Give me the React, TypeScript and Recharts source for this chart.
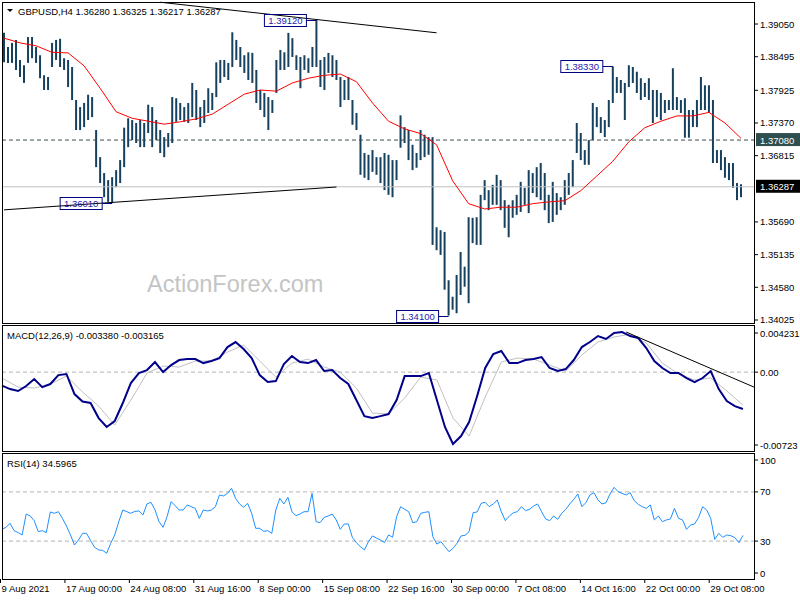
import React from "react";
import { ComposedChart, Bar, Line, XAxis, YAxis, ReferenceLine, ReferenceDot } from "recharts";

// GBPUSD H4, каждая точка = 2 бара H4
const timeLabels = [
  "9 Aug 2021", "17 Aug 00:00", "24 Aug 08:00", "31 Aug 16:00", "8 Sep 00:00", "15 Sep 08:00",
  "22 Sep 16:00", "30 Sep 00:00", "7 Oct 08:00", "14 Oct 16:00", "22 Oct 00:00", "29 Oct 08:00",
];
const labelStep = 16;

const highs = [
  1.3890, 1.3866, 1.3873, 1.3878, 1.3844, 1.3835, 1.3883, 1.3883, 1.3866, 1.3852,
  1.3818, 1.3815, 1.3873, 1.3878, 1.3880, 1.3847, 1.3844, 1.3832, 1.3776, 1.3764,
  1.3771, 1.3785, 1.3781, 1.3725, 1.3679, 1.3652, 1.3640, 1.3645, 1.3657, 1.3674,
  1.3729, 1.3745, 1.3742, 1.3737, 1.3742, 1.3737, 1.3768, 1.3764, 1.3742, 1.3725,
  1.3713, 1.3720, 1.3781, 1.3779, 1.3771, 1.3764, 1.3771, 1.3805, 1.3793, 1.3764,
  1.3776, 1.3796, 1.3788, 1.3840, 1.3844, 1.3844, 1.3839, 1.3891, 1.3878, 1.3866,
  1.3852, 1.3857, 1.3856, 1.3827, 1.3793, 1.3788, 1.3781, 1.3776, 1.3844, 1.3861,
  1.3857, 1.3890, 1.3881, 1.3852, 1.3849, 1.3852, 1.3847, 1.3866, 1.3912, 1.3844,
  1.3849, 1.3856, 1.3852, 1.3844, 1.3815, 1.3810, 1.3815, 1.3776, 1.3754, 1.3717,
  1.3686, 1.3683, 1.3691, 1.3679, 1.3679, 1.3686, 1.3683, 1.3674, 1.3674, 1.3750,
  1.3730, 1.3725, 1.3700, 1.3686, 1.3725, 1.3717, 1.3713, 1.3713, 1.3560, 1.3555,
  1.3552, 1.3470, 1.3442, 1.3479, 1.3518, 1.3493, 1.3577, 1.3576, 1.3577, 1.3615,
  1.3640, 1.3623, 1.3632, 1.3649, 1.3640, 1.3606, 1.3598, 1.3606, 1.3615, 1.3637,
  1.3627, 1.3657, 1.3652, 1.3662, 1.3669, 1.3652, 1.3615, 1.3637, 1.3618, 1.3611,
  1.3640, 1.3652, 1.3674, 1.3737, 1.3720, 1.3691, 1.3708, 1.3771, 1.3764, 1.3747,
  1.3742, 1.3776, 1.3833, 1.3815, 1.3810, 1.3805, 1.3835, 1.3832, 1.3824, 1.3813,
  1.3805, 1.3813, 1.3793, 1.3793, 1.3788, 1.3776, 1.3776, 1.3830, 1.3781, 1.3776,
  1.3779, 1.3759, 1.3759, 1.3776, 1.3815, 1.3801, 1.3801, 1.3776, 1.3691, 1.3691,
  1.3679, 1.3669, 1.3669, 1.3635, 1.3633,
];

const lows = [
  1.3840, 1.3839, 1.3839, 1.3827, 1.3815, 1.3805, 1.3839, 1.3847, 1.3839, 1.3813,
  1.3793, 1.3793, 1.3832, 1.3844, 1.3832, 1.3827, 1.3798, 1.3776, 1.3725, 1.3725,
  1.3730, 1.3742, 1.3747, 1.3662, 1.3635, 1.3611, 1.3603, 1.3601, 1.3628, 1.3635,
  1.3662, 1.3696, 1.3708, 1.3703, 1.3696, 1.3696, 1.3720, 1.3696, 1.3708, 1.3686,
  1.3679, 1.3696, 1.3703, 1.3739, 1.3742, 1.3739, 1.3737, 1.3747, 1.3742, 1.3730,
  1.3737, 1.3754, 1.3759, 1.3781, 1.3805, 1.3815, 1.3810, 1.3832, 1.3844, 1.3832,
  1.3822, 1.3810, 1.3805, 1.3771, 1.3759, 1.3747, 1.3725, 1.3754, 1.3788, 1.3827,
  1.3827, 1.3832, 1.3849, 1.3827, 1.3796, 1.3827, 1.3822, 1.3832, 1.3832, 1.3798,
  1.3793, 1.3822, 1.3815, 1.3810, 1.3764, 1.3776, 1.3776, 1.3734, 1.3725, 1.3649,
  1.3644, 1.3640, 1.3654, 1.3649, 1.3635, 1.3623, 1.3615, 1.3611, 1.3640, 1.3695,
  1.3703, 1.3674, 1.3657, 1.3661, 1.3674, 1.3679, 1.3683, 1.3530, 1.3521, 1.3513,
  1.3454, 1.3410, 1.3420, 1.3414, 1.3445, 1.3459, 1.3431, 1.3533, 1.3530, 1.3530,
  1.3606, 1.3589, 1.3598, 1.3598, 1.3589, 1.3559, 1.3543, 1.3576, 1.3581, 1.3586,
  1.3598, 1.3584, 1.3618, 1.3611, 1.3606, 1.3589, 1.3567, 1.3569, 1.3581, 1.3589,
  1.3598, 1.3615, 1.3628, 1.3686, 1.3674, 1.3666, 1.3666, 1.3708, 1.3730, 1.3720,
  1.3713, 1.3730, 1.3771, 1.3788, 1.3788, 1.3742, 1.3798, 1.3805, 1.3788, 1.3776,
  1.3781, 1.3776, 1.3737, 1.3747, 1.3742, 1.3754, 1.3759, 1.3759, 1.3759, 1.3754,
  1.3712, 1.3712, 1.3730, 1.3730, 1.3759, 1.3759, 1.3754, 1.3669, 1.3669, 1.3657,
  1.3644, 1.3640, 1.3627, 1.3606, 1.3611,
];

// красная скользящая, снята через каждые 4 точки
const maValues = [
  1.3881, 1.3873, 1.3868, 1.3857, 1.3856, 1.3834, 1.3796, 1.3756, 1.3745, 1.3740,
  1.3735, 1.3739, 1.3744, 1.3752, 1.3769, 1.3786, 1.3793, 1.3791, 1.3805, 1.3813,
  1.3818, 1.3820, 1.3807, 1.3771, 1.3740, 1.3727, 1.3719, 1.3700, 1.3639, 1.3600,
  1.3591, 1.3594, 1.3594, 1.3600, 1.3603, 1.3605, 1.3622, 1.3647, 1.3672, 1.3705,
  1.3729, 1.3740, 1.3749, 1.3749, 1.3755, 1.3737, 1.3711,
];

// MACD через каждые 2 точки
const macdValues = [
  -0.00123, -0.00155, -0.00173, -0.00127, -0.00063, -0.00137, -0.00109, -0.00027, -0.00017, -0.00201,
  -0.0027, -0.00283, -0.00421, -0.00503, -0.00448, -0.00283, -0.001, -0.00008, 0.00019, 0.00093,
  0.00001, 0.00065, 0.00111, 0.0012, 0.0012, 0.00083, 0.00102, 0.00129, 0.0023, 0.00276,
  0.00212, 0.00129, -0.00027, -0.00091, -0.00082, 0.00074, 0.00148, 0.00093, 0.00083, 0.00111,
  0.0001, 0.00019, -0.00054, -0.00109, -0.00256, -0.00403, -0.00421, -0.00403, -0.00384, -0.00256,
  -0.00036, -0.00036, -0.00036, -0.00008, -0.00256, -0.00503, -0.00659, -0.00586, -0.00458, -0.00219,
  0.00038, 0.00166, 0.00194, 0.00083, 0.00083, 0.00111, 0.0012, 0.00138, 0.00038, 0.0001,
  0.00028, 0.00111, 0.0023, 0.00276, 0.00331, 0.00304, 0.00359, 0.00368, 0.00331, 0.00313,
  0.00221, 0.00102, 0.00038, -0.00008, -0.00008, -0.00054, -0.00091, -0.00054, 0.0001, -0.00155,
  -0.00265, -0.00311, -0.00338,
];

// сигнальная линия через каждые 4 точки
const signalValues = [
  -0.00054, -0.00137, -0.00146, -0.00109, -0.00036, -0.00182, -0.00311, -0.00485, -0.00256, -0.00008,
  0.00056, 0.00047, 0.00102, 0.00102, 0.00184, 0.00248, 0.00102, -0.00045, 0.00083, 0.0012,
  0.00047, 0.00001, -0.00146, -0.00375, -0.00384, -0.00237, -0.00045, -0.00072, -0.00421, -0.00586,
  -0.00228, 0.00093, 0.00129, 0.0012, 0.00065, 0.0001, 0.00157, 0.00276, 0.00322, 0.00349,
  0.00267, 0.00083, -0.00017, -0.00072, -0.00054, -0.00173, -0.00302,
];

const rsiValues = [
  39.6, 41.2, 44.5, 38.5, 36.9, 35.0, 52.0, 50.4, 46.6, 37.7,
  38.5, 36.9, 53.7, 52.6, 53.9, 48.5, 42.3, 35.0, 26.8, 30.9,
  36.3, 36.3, 30.4, 24.9, 22.8, 22.5, 20.1, 28.2, 35.0, 45.8,
  55.3, 53.9, 52.6, 54.2, 54.5, 51.2, 60.2, 61.5, 55.3, 45.8,
  41.2, 49.9, 62.1, 58.8, 55.3, 55.3, 59.4, 58.0, 56.6, 48.5,
  55.3, 54.5, 55.3, 58.0, 67.5, 66.7, 68.8, 72.9, 64.8, 60.2,
  57.5, 60.7, 52.6, 40.4, 40.4, 37.9, 38.5, 36.3, 55.3, 64.8,
  60.2, 65.6, 53.9, 50.7, 52.0, 53.9, 53.9, 68.8, 45.8, 45.0,
  49.3, 50.4, 52.0, 47.2, 39.6, 43.9, 43.9, 33.1, 28.7, 25.5,
  22.8, 29.5, 34.2, 32.5, 30.9, 28.7, 35.0, 33.1, 49.9, 58.0,
  55.8, 53.9, 45.0, 45.8, 52.6, 53.4, 53.9, 33.6, 27.6, 29.5,
  25.5, 21.4, 24.1, 28.2, 34.2, 34.7, 37.7, 53.1, 53.7, 60.7,
  61.5, 58.0, 60.2, 63.4, 53.9, 46.6, 50.4, 53.1, 53.9, 58.0,
  54.8, 55.8, 58.5, 60.2, 53.9, 48.0, 46.6, 50.4, 47.7, 52.6,
  55.8, 60.2, 64.0, 68.3, 58.0, 61.2, 67.5, 69.4, 63.4, 60.2,
  61.2, 68.3, 73.7, 70.2, 68.8, 67.5, 69.4, 62.9, 59.9, 58.0,
  56.6, 59.4, 47.2, 50.4, 45.8, 47.2, 48.0, 56.6, 48.5, 47.2,
  39.6, 43.1, 43.9, 49.3, 58.0, 55.3, 48.5, 31.4, 36.3, 33.1,
  35.0, 34.4, 32.8, 28.7, 34.6,
];

const priceTicks = [1.3905, 1.38495, 1.37925, 1.3737, 1.36815, 1.3569, 1.35135, 1.3458, 1.34025];
const dashedLevel = 1.3708;
const lastPrice = 1.36287;
const priceTags = [
  { bar: 27, price: 1.3601 },
  { bar: 78, price: 1.3912 },
  { bar: 111, price: 1.341 },
  { bar: 152, price: 1.3833 },
];
const macdTicks = [0.004231, 0, -0.00723];
const rsiTicks = [100, 70, 30, 0];

const SLOTS = 188; // + пустое место справа
const rows = Array.from({ length: SLOTS }, (_, i) => ({
  i,
  range: i < highs.length ? [lows[i], highs[i]] : null,
  ma: i % 4 === 0 && maValues[i / 4] !== undefined ? maValues[i / 4] : null,
  macd: i % 2 === 0 && macdValues[i / 2] !== undefined ? macdValues[i / 2] : null,
  signal: i % 4 === 0 && signalValues[i / 4] !== undefined ? signalValues[i / 4] : null,
  rsi: i < rsiValues.length ? rsiValues[i] : null,
}));

const font = "'Liberation Sans', Arial, sans-serif";
const fs = 9.5;

const PriceTick = (props: any) => {
  const { x, y, payload } = props;
  const v = payload.value;
  const label = v.toFixed(5);
  if (v === dashedLevel || v === lastPrice) {
    return (
      <g>
        <rect x={x + 1} y={y - 7} width={45} height={13} fill={v === lastPrice ? "#000000" : "#2f4f4f"} />
        <text x={x + 5} y={y + 3.5} fontSize={fs} fontFamily={font} fill="#ffffff">{label}</text>
      </g>
    );
  }
  return (
    <g>
      <line x1={x} x2={x + 3} y1={y} y2={y} stroke="#000" />
      <text x={x + 5} y={y + 3.5} fontSize={fs} fontFamily={font} fill="#000">{label}</text>
    </g>
  );
};

const MacdTick = (props: any) => {
  const { x, y, payload } = props;
  const v = payload.value;
  const label = v === 0 ? "0.00" : v === macdTicks[0] ? "0.004231" : "-0.00723";
  const dy = v === macdTicks[0] ? 7 : v === macdTicks[2] ? -6 : 0;
  return (
    <g>
      <line x1={x} x2={x + 3} y1={y + dy} y2={y + dy} stroke="#000" />
      <text x={x + 5} y={y + dy + 3.5} fontSize={fs} fontFamily={font} fill="#000">{label}</text>
    </g>
  );
};

const RsiTick = (props: any) => {
  const { x, y, payload } = props;
  const v = payload.value;
  const dy = v === 100 ? 5 : v === 0 ? -5 : 0;
  return (
    <g>
      <line x1={x} x2={x + 3} y1={y + dy} y2={y + dy} stroke="#000" />
      <text x={x + 5} y={y + dy + 3.5} fontSize={fs} fontFamily={font} fill="#000">{v}</text>
    </g>
  );
};

const TimeTick = (props: any) => {
  const { x, y, payload } = props;
  const label = timeLabels[Math.round(payload.value / labelStep)];
  if (!label) return null;
  return (
    <g>
      <line x1={x - 1.5} x2={x - 1.5} y1={y + 1} y2={y + 5} stroke="#000" />
      <text x={x - 0.5} y={y + 14} fontSize={fs} fontFamily={font} fill="#000">{label}</text>
    </g>
  );
};

// подпись уровня: рамка слева от бара
const PriceTag = (props: any) => {
  const { cx, cy, text } = props;
  const right = cx - 10;
  const yy = Math.round(cy) + 0.5;
  return (
    <g>
      <line x1={right} x2={cx} y1={yy} y2={yy} stroke="#000080" />
      <rect x={right - 42} y={yy - 6} width={42} height={12} fill="none" stroke="#000080" />
      <text x={right - 21} y={yy + 3.5} textAnchor="middle" fontSize={fs} fontFamily={font} fill="#2424b0">
        {text}
      </text>
    </g>
  );
};

const App: React.FC = () => {
  return (
    <div style={{ position: "absolute", left: 0, top: 0, width: 800, height: 600, background: "#fff" }}>
      <svg width={800} height={600} style={{ position: "absolute", left: 0, top: 0 }}>
        <text x={147} y={292} fontSize={23.5} fontFamily={font} fill="#c4c4c4">ActionForex.com</text>
      </svg>

      {/* цена */}
      <div style={{ position: "absolute", left: 0, top: 0 }}>
        <ComposedChart width={800} height={325} data={rows} margin={{ top: 2, right: 0, bottom: 2, left: 2 }}>
          <XAxis dataKey="i" hide />
          <YAxis
            orientation="right"
            type="number"
            width={45}
            domain={[1.33974, 1.39424]}
            allowDataOverflow
            ticks={[...priceTicks, dashedLevel, lastPrice]}
            interval={0}
            axisLine={false}
            tickLine={false}
            tickSize={0}
            tickMargin={0}
            tick={<PriceTick />}
          />
          <ReferenceLine y={lastPrice} stroke="#c0c0c0" />
          <ReferenceLine y={dashedLevel} stroke="#3c4c4c" strokeDasharray="4 3" />
          <Bar dataKey="range" fill="#15415f" barSize={2} isAnimationActive={false} />
          <Line dataKey="ma" stroke="#ff0000" strokeWidth={1} dot={false} connectNulls type="linear" isAnimationActive={false} />
          <ReferenceLine segment={[{ x: 0, y: 1.35895 }, { x: 83, y: 1.36283 }]} stroke="#000" ifOverflow="visible" />
          <ReferenceLine segment={[{ x: 39, y: 1.3942 }, { x: 108, y: 1.38901 }]} stroke="#000" ifOverflow="visible" />
          {priceTags.map((t) => (
            <ReferenceDot
              key={t.bar}
              x={t.bar}
              y={t.price}
              r={0}
              ifOverflow="visible"
              shape={(p: any) => <PriceTag {...p} text={t.price.toFixed(5)} />}
            />
          ))}
        </ComposedChart>
      </div>

      {/* MACD */}
      <div style={{ position: "absolute", left: 0, top: 326 }}>
        <ComposedChart width={800} height={125} data={rows} margin={{ top: 0, right: 0, bottom: 0, left: 2 }}>
          <XAxis dataKey="i" hide />
          <YAxis
            orientation="right"
            type="number"
            width={45}
            domain={[-0.00723, 0.004231]}
            allowDataOverflow
            ticks={macdTicks}
            interval={0}
            axisLine={false}
            tickLine={false}
            tickSize={0}
            tickMargin={0}
            tick={<MacdTick />}
          />
          <ReferenceLine y={0} stroke="#b4b4b4" strokeDasharray="4 3" />
          <Line dataKey="signal" stroke="#c0c0c0" strokeWidth={1} dot={false} connectNulls isAnimationActive={false} />
          <Line dataKey="macd" stroke="#00008b" strokeWidth={2} dot={false} connectNulls isAnimationActive={false} />
          <ReferenceLine segment={[{ x: 155, y: 0.003677 }, { x: 187, y: -0.001412 }]} stroke="#000" ifOverflow="visible" />
        </ComposedChart>
      </div>

      {/* RSI */}
      <div style={{ position: "absolute", left: 0, top: 455 }}>
        <ComposedChart width={800} height={145} data={rows} margin={{ top: 0, right: 0, bottom: 0, left: 2 }}>
          <XAxis
            dataKey="i"
            height={22}
            interval={labelStep - 1}
            axisLine={false}
            tickLine={false}
            tickSize={0}
            tickMargin={0}
            tick={<TimeTick />}
          />
          <YAxis
            orientation="right"
            type="number"
            width={45}
            domain={[0, 100]}
            ticks={rsiTicks}
            interval={0}
            axisLine={false}
            tickLine={false}
            tickSize={0}
            tickMargin={0}
            tick={<RsiTick />}
          />
          <ReferenceLine y={70} stroke="#b4b4b4" strokeDasharray="4 3" />
          <ReferenceLine y={30} stroke="#b4b4b4" strokeDasharray="4 3" />
          <Line dataKey="rsi" stroke="#1e90ff" strokeWidth={1} dot={false} isAnimationActive={false} />
        </ComposedChart>
      </div>

      {/* рамки и заголовки */}
      <svg width={800} height={600} style={{ position: "absolute", left: 0, top: 0, pointerEvents: "none" }}>
        <rect x={2.5} y={2.5} width={752} height={321} fill="none" stroke="#000" />
        <rect x={2.5} y={325.5} width={752} height={126} fill="none" stroke="#000" />
        <rect x={2.5} y={453.5} width={752} height={126} fill="none" stroke="#000" />
        <polygon points="7,9 13,9 10,12" fill="#000" />
        <text x={18} y={14.5} fontSize={fs} fontFamily={font} fill="#000">GBPUSD,H4  1.36280 1.36325 1.36217 1.36287</text>
        <text x={7} y={338.5} fontSize={fs} fontFamily={font} fill="#000">MACD(12,26,9) -0.003380 -0.003165</text>
        <text x={7} y={467} fontSize={fs} fontFamily={font} fill="#000">RSI(14) 34.5965</text>
      </svg>
    </div>
  );
};

export default App;
